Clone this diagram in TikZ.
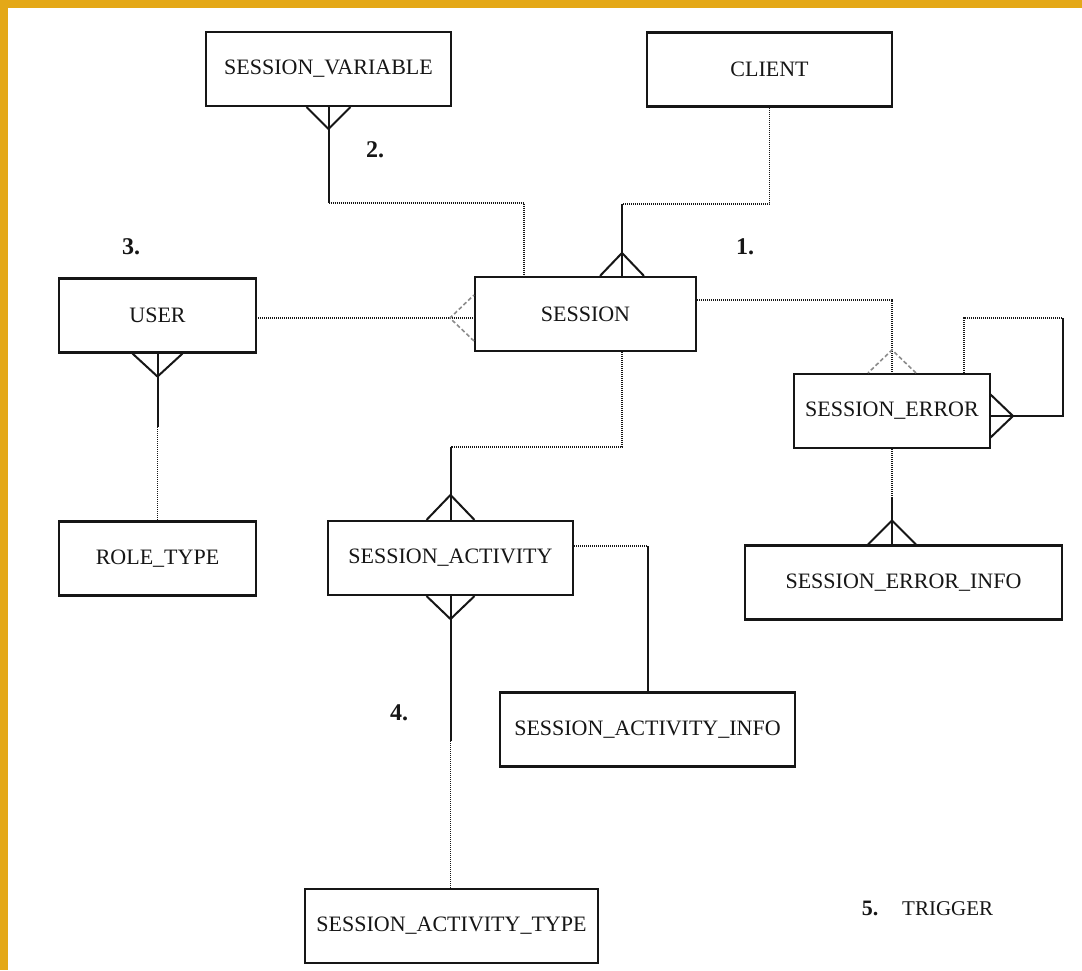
\documentclass[tikz,border=0pt]{standalone}
\usepackage{fontspec}
\setmainfont{Liberation Serif}
\usetikzlibrary{calc}
\definecolor{gold}{HTML}{E4A817}
\definecolor{ink}{HTML}{161616}
\definecolor{faint}{HTML}{8C8C8C}
% crow's foot: #2 = point on the box side, #3 = apex offset, #4 = half spread of the feet
\newcommand{\crowfoot}[4][]{\draw[#1] ($(#2)+(#4)$) -- ($(#2)+(#3)$) -- ($(#2)-(#4)$);}

\begin{document}
\begin{tikzpicture}[x=1pt, y=-1pt,
  entity/.style={draw=ink, line width=2.1pt, minimum height=74pt, inner sep=0pt, text=ink,
    font=\fontsize{22}{26}\selectfont},
  solidline/.style={draw=ink, line width=2pt},
  dotline/.style={draw=ink, line width=1.6pt, dash pattern=on 1pt off 1pt},
  dashline/.style={draw=faint, line width=1.6pt, dash pattern=on 4pt off 2.5pt},
  num/.style={inner sep=0pt, text=ink, font=\fontsize{24}{28}\selectfont\bfseries}]
% page and the gold frame at top and left
\fill[white] (0,0) rectangle (1082,970);
\useasboundingbox (0,0) rectangle (1082,970);
\fill[gold] (0,0) rectangle (1082,8);
\fill[gold] (0,0) rectangle (8,970);

% 1. entities
\node[entity, minimum width=245pt] (svar)   at (328.5,69)   {SESSION\_VARIABLE};
\node[entity, minimum width=245pt] (client) at (769.5,69.5) {CLIENT};
\node[entity, minimum width=221pt] (sess)   at (585.5,314)  {SESSION};
\node[entity, minimum width=197pt] (user)   at (157.5,315.5) {USER};
\node[entity, minimum width=197pt] (role)   at (157.5,558.5) {ROLE\_TYPE};
\node[entity, minimum width=196pt] (serr)   at (892,411)    {SESSION\_ERROR};
\node[entity, minimum width=317pt] (seinfo) at (903.5,582.5) {SESSION\_ERROR\_INFO};
\node[entity, minimum width=245pt] (sact)   at (450.5,558)  {SESSION\_ACTIVITY};
\node[entity, minimum width=295pt] (sainfo) at (647.5,729.5) {SESSION\_ACTIVITY\_INFO};
\node[entity, minimum width=293pt] (satype) at (451.5,926)  {SESSION\_ACTIVITY\_TYPE};

% 2. relationship numbers
\node[num] (n1) at (745,247) {1.};
\node[num] (n2) at (375,150) {2.};
\node[num] (n3) at (131,247) {3.};
\node[num] (n4) at (399,713) {4.};
\node[num, font=\fontsize{22}{26}\selectfont\bfseries] (n5) at (870,908) {5.};
\node[inner sep=0pt, text=ink, font=\fontsize{21}{25}\selectfont, anchor=west] (trig) at (902,909) {TRIGGER};

% 3. connectors (dotted = optional half, solid = mandatory half)
% client -- session
\coordinate (c1) at (622,204);
\draw[dotline] (client.south) |- (c1);
\draw[solidline] (c1) -- (c1 |- sess.north);
\crowfoot[solidline]{c1 |- sess.north}{0,-23}{22,0}
% session_variable -- session
\coordinate (c2) at (524,203);
\draw[solidline] (svar.south) -- (svar.south |- c2);
\draw[dotline] (svar.south |- c2) -- (c2) -- (c2 |- sess.north);
\crowfoot[solidline]{svar.south}{0,22}{22,0}
% user -- session
\coordinate (c3) at (256,318);
\draw[dotline] (c3) -- (c3 -| sess.west);
\crowfoot[dashline]{c3 -| sess.west}{-24,0}{0,23}
% user -- role_type
\coordinate (c4) at (157.5,427);
\draw[solidline] (user.south) -- (c4);
\draw[dotline] (c4) -- (role.north);
\crowfoot[solidline]{user.south}{0,23}{25,0}
% session -- session_activity
\coordinate (c5) at (622,447);
\draw[dotline] (c5 |- sess.south) -- (c5) -- (c5 -| sact.north);
\draw[solidline] (c5 -| sact.north) -- (sact.north);
\crowfoot[solidline]{sact.north}{0,-25}{24,0}
% session_activity -- session_activity_type
\coordinate (c6) at (450.5,741);
\draw[solidline] (sact.south) -- (c6);
\draw[dotline] (c6) -- (c6 |- satype.north);
\crowfoot[solidline]{sact.south}{0,23}{24,0}
% session_activity -- session_activity_info
\coordinate (c7) at (647.5,546);
\draw[dotline] (sact.east |- c7) -- (c7);
\draw[solidline] (c7) -- (sainfo.north);
% session -- session_error
\coordinate (c8) at (892,300);
\draw[dotline] (sess.east |- c8) -- (c8) -- (serr.north);
\crowfoot[dashline]{serr.north}{0,-23}{24,0}
% session_error -- itself
\coordinate (c9) at (964,318);
\coordinate (c10) at (1063,318);
\coordinate (c11) at (990,416);
\draw[dotline] (c9 |- serr.north) -- (c9) -- (c10);
\draw[solidline] (c10) |- (c11);
\crowfoot[solidline]{c11}{23,0}{0,22}
% session_error -- session_error_info
\coordinate (c12) at (892,497);
\draw[dotline] (serr.south) -- (c12);
\draw[solidline] (c12) -- (c12 |- seinfo.north);
\crowfoot[solidline]{c12 |- seinfo.north}{0,-24}{24,0}
\end{tikzpicture}
\end{document}
